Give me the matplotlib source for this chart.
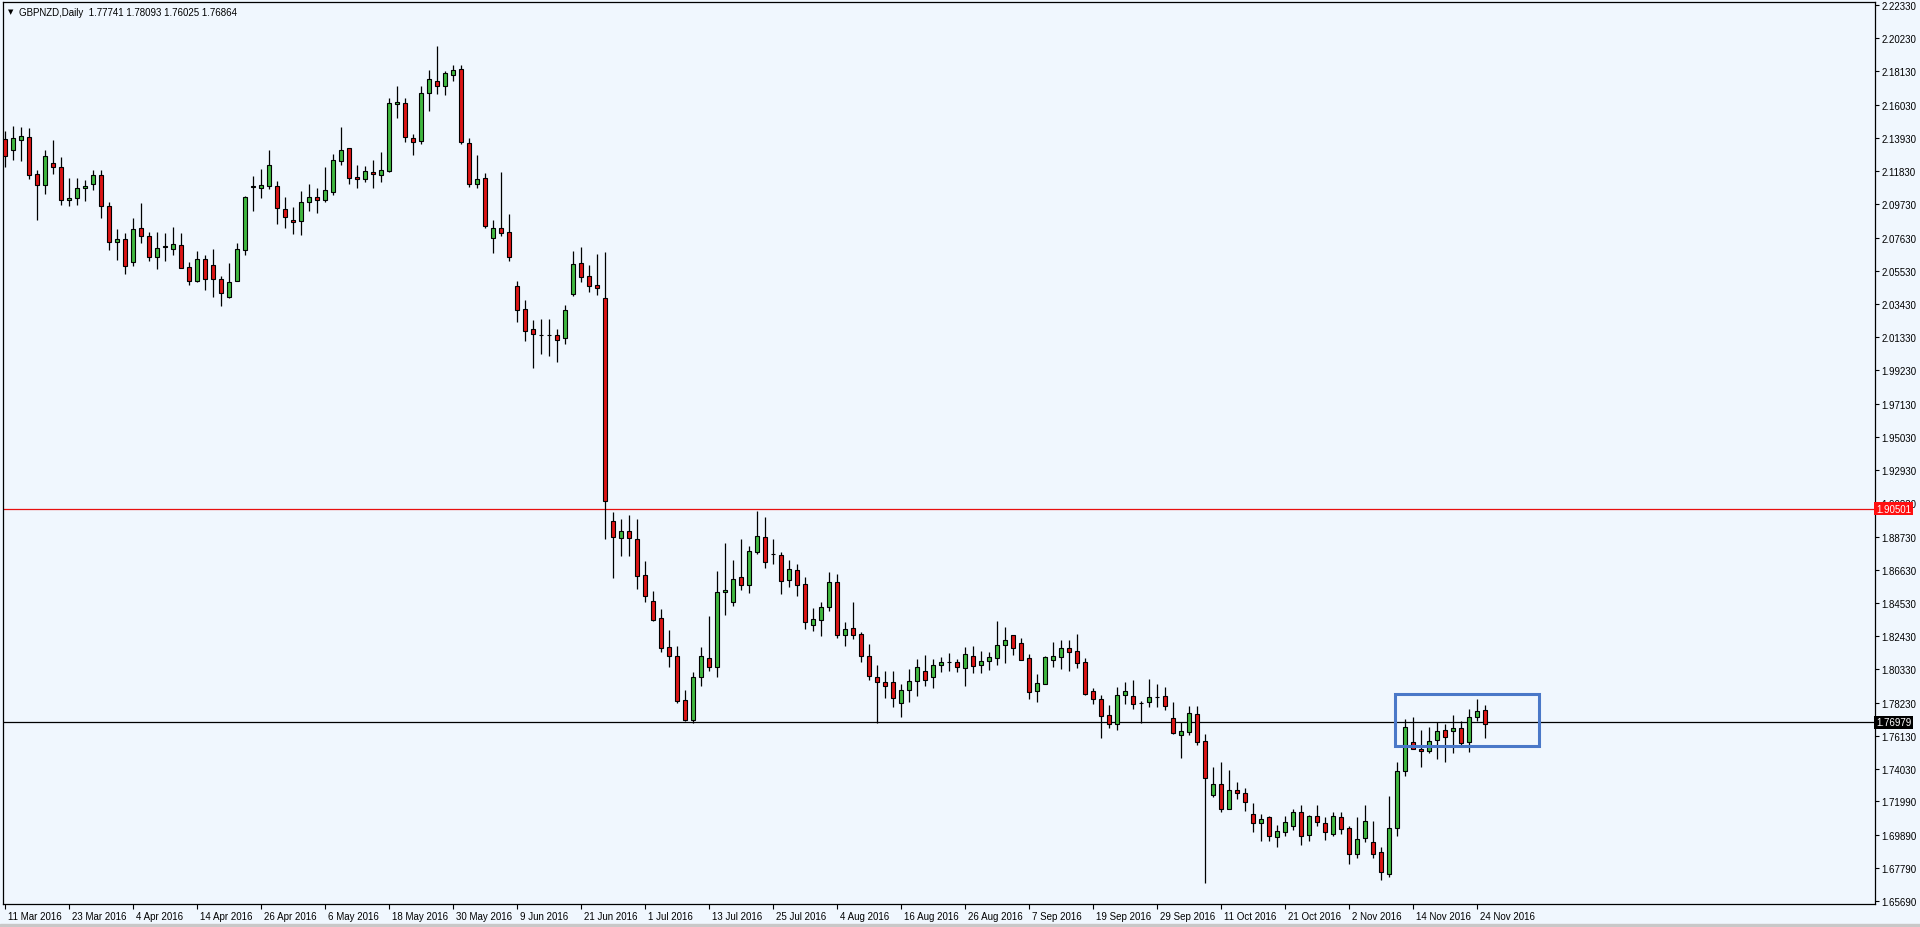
import matplotlib
matplotlib.use("Agg")
import matplotlib.pyplot as plt
import matplotlib.transforms as mtransforms
from matplotlib.patches import Rectangle
import numpy as np

plt.rcParams['font.family'] = ['Liberation Sans', 'DejaVu Sans']

# daily GBPNZD candles (11 Mar 2016 .. 25 Nov 2016)
opens = [
    2.1386, 2.1319, 2.1382, 2.1397, 2.1163, 2.1097, 2.1235, 2.1207, 2.0999, 2.1011,
    2.1075, 2.1104, 2.1157, 2.0961, 2.0737, 2.0752, 2.0611, 2.0824, 2.0773, 2.0642,
    2.0702, 2.0693, 2.0716, 2.0575, 2.0487, 2.0626, 2.0588, 2.0499, 2.0390, 2.0491,
    2.0687, 2.1081, 2.1078, 2.1091, 2.1087, 2.0944, 2.0872, 2.0870, 2.0986, 2.1020,
    2.1003, 2.1053, 2.1245, 2.1327, 2.1144, 2.1135, 2.1178, 2.1161, 2.1182, 2.1606,
    2.1614, 2.1393, 2.1372, 2.1675, 2.1753, 2.1719, 2.1793, 2.1829, 2.1361, 2.1102,
    2.1140, 2.0762, 2.0824, 2.0797, 2.0455, 2.0310, 2.0183, 2.0149, 2.0150, 2.0146,
    2.0130, 2.0408, 2.0601, 2.0518, 2.0463, 2.0379, 1.8970, 1.8863, 1.8907, 1.8856,
    1.8629, 1.8464, 1.8357, 1.8174, 1.8119, 1.7839, 1.7716, 1.7984, 1.8106, 1.8047,
    1.8521, 1.8458, 1.8616, 1.8569, 1.8774, 1.8869, 1.8763, 1.8757, 1.8601, 1.8662,
    1.8574, 1.8317, 1.8348, 1.8427, 1.8588, 1.8253, 1.8294, 1.8258, 1.8121, 1.7984,
    1.7953, 1.7953, 1.7820, 1.7900, 1.7963, 1.8026, 1.7984, 1.8058, 1.8083, 1.8083,
    1.8041, 1.8119, 1.8058, 1.8085, 1.8108, 1.8190, 1.8250, 1.8199, 1.8106, 1.7896,
    1.7942, 1.8095, 1.8114, 1.8167, 1.8149, 1.8079, 1.7896, 1.7845, 1.7746, 1.7687,
    1.7870, 1.7866, 1.7824, 1.7826, 1.7860, 1.7862, 1.7725, 1.7621, 1.7640, 1.7752,
    1.7580, 1.7242, 1.7308, 1.7152, 1.7272, 1.7251, 1.7120, 1.7061, 1.7101, 1.6973,
    1.7004, 1.7046, 1.7131, 1.6989, 1.7106, 1.7061, 1.6994, 1.7099, 1.7030, 1.6867,
    1.6970, 1.6941, 1.6878, 1.6741, 1.7030, 1.7388, 1.7573, 1.7531, 1.7520, 1.7590,
    1.7651, 1.7647, 1.7662, 1.7577, 1.7731, 1.77741,
]
highs = [
    2.1439, 2.1470, 2.1460, 2.1456, 2.1190, 2.1319, 2.1382, 2.1271, 2.1140, 2.1140,
    2.1129, 2.1192, 2.1190, 2.0990, 2.0817, 2.0790, 2.0885, 2.0982, 2.0800, 2.0797,
    2.0792, 2.0832, 2.0792, 2.0607, 2.0676, 2.0655, 2.0691, 2.0522, 2.0603, 2.0729,
    2.1024, 2.1154, 2.1197, 2.1319, 2.1123, 2.1022, 2.0955, 2.1056, 2.1102, 2.1075,
    2.1207, 2.1291, 2.1460, 2.1330, 2.1224, 2.1214, 2.1253, 2.1302, 2.1643, 2.1723,
    2.1643, 2.1418, 2.1723, 2.1822, 2.1976, 2.1816, 2.1854, 2.1854, 2.1391, 2.1287,
    2.1171, 2.0876, 2.1176, 2.0912, 2.0487, 2.0371, 2.0242, 2.0249, 2.0249, 2.0185,
    2.0337, 2.0676, 2.0702, 2.0592, 2.0659, 2.0674, 1.9031, 1.8985, 1.9010, 1.8985,
    1.8721, 1.8531, 1.8416, 1.8285, 1.8184, 1.7900, 1.8016, 1.8174, 1.8370, 1.8654,
    1.8833, 1.8727, 1.8858, 1.8812, 1.9037, 1.8995, 1.8858, 1.8774, 1.8727, 1.8700,
    1.8616, 1.8420, 1.8462, 1.8648, 1.8637, 1.8335, 1.8458, 1.8272, 1.8195, 1.8058,
    1.8026, 1.8026, 1.7942, 1.8037, 1.8100, 1.8125, 1.8100, 1.8110, 1.8138, 1.8100,
    1.8174, 1.8182, 1.8152, 1.8146, 1.8342, 1.8300, 1.8253, 1.8233, 1.8131, 1.8005,
    1.8121, 1.8205, 1.8222, 1.8220, 1.8258, 1.8108, 1.7915, 1.7872, 1.7811, 1.7925,
    1.7953, 1.7969, 1.7836, 1.7973, 1.7943, 1.7921, 1.7830, 1.7703, 1.7805, 1.7805,
    1.7626, 1.7415, 1.7451, 1.7400, 1.7324, 1.7284, 1.7190, 1.7120, 1.7106, 1.7051,
    1.7106, 1.7152, 1.7177, 1.7114, 1.7173, 1.7099, 1.7135, 1.7131, 1.7046, 1.7099,
    1.7177, 1.7074, 1.6910, 1.7236, 1.7447, 1.7721, 1.7731, 1.7651, 1.7668, 1.7700,
    1.7685, 1.7742, 1.7710, 1.7784, 1.7843, 1.78093,
]
lows = [
    2.1207, 2.1253, 2.1249, 2.1133, 2.0876, 2.1039, 2.1165, 2.0969, 2.0961, 2.0971,
    2.0996, 2.1066, 2.0887, 2.0687, 2.0621, 2.0533, 2.0585, 2.0729, 2.0617, 2.0565,
    2.0617, 2.0655, 2.0570, 2.0465, 2.0484, 2.0432, 2.0390, 2.0333, 2.0379, 2.0488,
    2.0655, 2.0933, 2.1011, 2.1070, 2.0849, 2.0824, 2.0786, 2.0779, 2.0933, 2.0919,
    2.0986, 2.1034, 2.1222, 2.1102, 2.1075, 2.1112, 2.1077, 2.1112, 2.1178, 2.1517,
    2.1369, 2.1287, 2.1355, 2.1565, 2.1671, 2.1666, 2.1753, 2.1355, 2.1085, 2.1077,
    2.0824, 2.0668, 2.0775, 2.0617, 2.0230, 2.0111, 1.9939, 2.0027, 2.0017, 1.9975,
    2.0093, 2.0396, 2.0484, 2.0421, 2.0400, 1.8858, 1.8612, 1.8753, 1.8753, 1.8542,
    1.8462, 1.8342, 1.8146, 1.8051, 1.7822, 1.7710, 1.7693, 1.7927, 1.8020, 1.7988,
    1.8380, 1.8433, 1.8538, 1.8517, 1.8763, 1.8675, 1.8700, 1.8511, 1.8553, 1.8496,
    1.8289, 1.8279, 1.8247, 1.8405, 1.8231, 1.8180, 1.8226, 1.8079, 1.7969, 1.7693,
    1.7851, 1.7798, 1.7735, 1.7826, 1.7868, 1.7931, 1.7915, 1.8016, 1.8022, 1.8016,
    1.7926, 1.8011, 1.8011, 1.8030, 1.8058, 1.8075, 1.8125, 1.8095, 1.7847, 1.7826,
    1.7938, 1.8051, 1.8037, 1.8026, 1.8041, 1.7874, 1.7813, 1.7600, 1.7664, 1.7651,
    1.7813, 1.7784, 1.7693, 1.7798, 1.7793, 1.7778, 1.7626, 1.7474, 1.7621, 1.7558,
    1.6684, 1.7226, 1.7135, 1.7148, 1.7215, 1.7137, 1.7008, 1.6951, 1.6951, 1.6910,
    1.6977, 1.7015, 1.6926, 1.6951, 1.7042, 1.6958, 1.6979, 1.6994, 1.6800, 1.6842,
    1.6945, 1.6842, 1.6699, 1.6724, 1.6983, 1.7362, 1.7527, 1.7419, 1.7506, 1.7468,
    1.7447, 1.7506, 1.7552, 1.7514, 1.7710, 1.76025,
]
closes = [
    2.1281, 2.1391, 2.1403, 2.1161, 2.1097, 2.1281, 2.1207, 2.1003, 2.1013, 2.1077,
    2.1087, 2.1157, 2.0961, 2.0737, 2.0754, 2.0582, 2.0815, 2.0771, 2.0642, 2.0695,
    2.0708, 2.0721, 2.0573, 2.0491, 2.0626, 2.0503, 2.0503, 2.0411, 2.0481, 2.0689,
    2.1018, 2.1087, 2.1094, 2.1222, 2.0948, 2.0895, 2.0864, 2.0986, 2.1018, 2.1003,
    2.1064, 2.1252, 2.1315, 2.1142, 2.1135, 2.1182, 2.1163, 2.1188, 2.1614, 2.1620,
    2.1401, 2.1369, 2.1677, 2.1763, 2.1719, 2.1803, 2.1820, 2.1369, 2.1102, 2.1133,
    2.0838, 2.0824, 2.0790, 2.0642, 2.0307, 2.0175, 2.0152, 2.0147, 2.0147, 2.0118,
    2.0304, 2.0594, 2.0516, 2.0459, 2.0446, 1.9100, 1.8869, 1.8907, 1.8863, 1.8626,
    1.8496, 1.8348, 1.8167, 1.8117, 1.7836, 1.7716, 1.7984, 1.8117, 1.8051, 1.8521,
    1.8536, 1.8605, 1.8569, 1.8780, 1.8879, 1.8715, 1.8760, 1.8595, 1.8669, 1.8569,
    1.8332, 1.8353, 1.8427, 1.8588, 1.8253, 1.8289, 1.8253, 1.8117, 1.7991, 1.7953,
    1.7927, 1.7851, 1.7900, 1.7963, 1.8047, 1.7969, 1.8058, 1.8083, 1.8081, 1.8047,
    1.8130, 1.8054, 1.8085, 1.8111, 1.8186, 1.8220, 1.8171, 1.8095, 1.7893, 1.7946,
    1.8111, 1.8119, 1.8167, 1.8146, 1.8076, 1.7877, 1.7845, 1.7741, 1.7687, 1.7870,
    1.7896, 1.7813, 1.7822, 1.7858, 1.7858, 1.7803, 1.7632, 1.7643, 1.7757, 1.7577,
    1.7346, 1.7308, 1.7152, 1.7272, 1.7251, 1.7194, 1.7061, 1.7089, 1.6977, 1.7011,
    1.7068, 1.7131, 1.6983, 1.7106, 1.7068, 1.7004, 1.7106, 1.7025, 1.6867, 1.6962,
    1.7074, 1.6867, 1.6752, 1.7032, 1.7390, 1.7668, 1.7531, 1.7516, 1.7583, 1.7647,
    1.7609, 1.7664, 1.7569, 1.7731, 1.7769, 1.76864,
]

# one date label every 8 bars
date_labels = [
    "11 Mar 2016", "23 Mar 2016", "4 Apr 2016", "14 Apr 2016", "26 Apr 2016",
    "6 May 2016", "18 May 2016", "30 May 2016", "9 Jun 2016", "21 Jun 2016",
    "1 Jul 2016", "13 Jul 2016", "25 Jul 2016", "4 Aug 2016", "16 Aug 2016",
    "26 Aug 2016", "7 Sep 2016", "19 Sep 2016", "29 Sep 2016", "11 Oct 2016",
    "21 Oct 2016", "2 Nov 2016", "14 Nov 2016", "24 Nov 2016",
]
price_labels = [
    "2.22330", "2.20230", "2.18130", "2.16030", "2.13930", "2.11830", "2.09730",
    "2.07630", "2.05530", "2.03430", "2.01330", "1.99230", "1.97130", "1.95030",
    "1.92930", "1.90830", "1.88730", "1.86630", "1.84530", "1.82430", "1.80330",
    "1.78230", "1.76130", "1.74030", "1.71990", "1.69890", "1.67790", "1.65690",
]

title_text = "GBPNZD,Daily  1.77741 1.78093 1.76025 1.76864"
resistance = 1.90501
support = 1.76979
# blue box drawn around the last two weeks (bar index / price)
box_bars = (173.75, 191.75)
box_prices = (1.75472, 1.78778)

bg = '#F0F7FE'
green = '#40B840'
red = '#DD1515'

fig = plt.figure(figsize=(19.2, 9.28), dpi=100, facecolor=bg)
ax = fig.add_axes([3 / 1920, 23 / 928, 1872 / 1920, 902 / 928])
ax.set_facecolor(bg)

o = np.array(opens)
h = np.array(highs)
l = np.array(lows)
c = np.array(closes)
x = np.arange(len(o))
up = c > o

ax.vlines(x, l, h, color='black', linewidth=0.9, zorder=2)
body_bottom = np.minimum(o, c)
body_height = np.maximum(np.abs(c - o), 0.0002)
ax.bar(x[up], body_height[up], bottom=body_bottom[up], width=0.55,
       color=green, edgecolor='black', linewidth=0.8, zorder=3)
ax.bar(x[~up], body_height[~up], bottom=body_bottom[~up], width=0.55,
       color=red, edgecolor='black', linewidth=0.8, zorder=3)

# horizontal levels
ax.axhline(resistance, color='#E81010', linewidth=0.9, zorder=1)
ax.axhline(support, color='black', linewidth=0.9, zorder=1)

ax.add_patch(Rectangle((box_bars[0], box_prices[0]), box_bars[1] - box_bars[0],
                       box_prices[1] - box_prices[0], fill=False,
                       edgecolor='#4A78C8', linewidth=2.2, zorder=4))

ax.set_xlim(-0.25, 233.75)
ax.set_ylim(1.65503, 2.22520)

# right price axis
ax.yaxis.tick_right()
ax.set_yticks([float(p) for p in price_labels])
ax.set_yticklabels(price_labels)
ax.tick_params(axis='y', direction='out', length=3, width=0.8, pad=1.5,
               labelsize=7, colors='black')

# bottom date axis, labels start right after the tick
ax.set_xticks(range(0, 8 * len(date_labels), 8))
ax.set_xticklabels(date_labels)
ax.tick_params(axis='x', direction='out', length=3.5, width=0.8, pad=1.5,
               labelsize=7, colors='black')
shift = mtransforms.ScaledTranslation(2 / 72, 0, fig.dpi_scale_trans)
for lbl in ax.get_xticklabels():
    lbl.set_horizontalalignment('left')
    lbl.set_transform(lbl.get_transform() + shift)

for sp in ax.spines.values():
    sp.set_color('black')
    sp.set_linewidth(0.9)

# price tags on the right axis
ytr = ax.get_yaxis_transform()
ax.text(1.0006, resistance, '1.90501', transform=ytr, ha='left', va='center',
        fontsize=7, color='white', clip_on=False, zorder=6,
        bbox=dict(boxstyle='square,pad=0.18', fc='#FF1010', ec='none'))
ax.text(1.0006, support, '1.76979', transform=ytr, ha='left', va='center',
        fontsize=7, color='white', clip_on=False, zorder=6,
        bbox=dict(boxstyle='square,pad=0.18', fc='black', ec='none'))

# chart title
fig.text(8 / 1920, 1 - 12.5 / 928, '\u25bc', fontsize=5, va='center',
         family=['DejaVu Sans'])
fig.text(19 / 1920, 1 - 12.5 / 928, title_text, fontsize=7, va='center')

# window frame
fig.patches.append(Rectangle((0, 0), 1, 3 / 928, transform=fig.transFigure,
                             color='#C8C8C8', zorder=0))

fig.savefig('out.png', dpi=100, facecolor=bg)
